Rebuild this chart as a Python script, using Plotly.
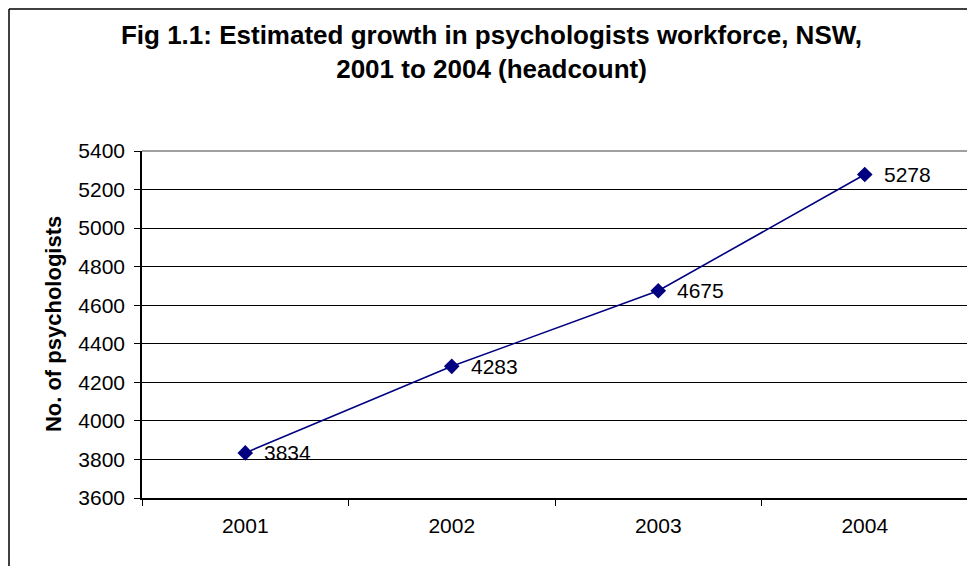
import plotly.graph_objects as go

years = ["2001", "2002", "2003", "2004"]
headcount = [3834, 4283, 4675, 5278]
y_ticks = [3600, 3800, 4000, 4200, 4400, 4600, 4800, 5000, 5200, 5400]

FONT = "Liberation Sans, Arial, sans-serif"
NAVY = "#000080"

# page body has an 8px margin, so the figure is sized to fit the window
W, H = 967, 558
L, R, T, B = 134, 7, 143, 68

fig = go.Figure()
fig.add_trace(go.Scatter(
    x=years, y=headcount, mode="lines+markers",
    line=dict(color=NAVY, width=1.6),
    marker=dict(symbol="diamond", size=12, color=NAVY),
    showlegend=False, hoverinfo="skip",
))

for i, v in enumerate(headcount):
    fig.add_annotation(x=i, y=v, text=str(v), showarrow=False,
                       xanchor="left", yanchor="middle", xshift=17,
                       font=dict(family=FONT, size=21, color="black"))

# y-axis title
fig.add_annotation(xref="paper", yref="paper", x=-0.107, y=0.5,
                   text="<b>No. of psychologists</b>", textangle=-90,
                   showarrow=False, xanchor="center", yanchor="middle",
                   font=dict(family=FONT, size=22, color="black"))

shapes = [
    # outer chart border (cropped on right/bottom), pixel-sized from plot corner
    dict(type="line", xref="paper", yref="paper",
         xsizemode="pixel", ysizemode="pixel", xanchor=0, yanchor=1,
         x0=-(L - 1), x1=-(L - 1), y0=-600, y1=T - 1,
         line=dict(color="black", width=1.5), layer="above"),
    dict(type="line", xref="paper", yref="paper",
         xsizemode="pixel", ysizemode="pixel", xanchor=0, yanchor=1,
         x0=-(L - 1), x1=1200, y0=T - 1, y1=T - 1,
         line=dict(color="black", width=1.5), layer="above"),
    # grey plot-area border top and right
    dict(type="line", xref="paper", yref="paper", x0=0, x1=1, y0=1, y1=1,
         line=dict(color="#808080", width=1.5), layer="above"),
    dict(type="line", xref="paper", yref="paper", x0=1, x1=1, y0=0, y1=1,
         line=dict(color="#808080", width=1.5), layer="above"),
]

fig.update_layout(
    width=W, height=H,
    margin=dict(l=L, r=R, t=T, b=B, autoexpand=False),
    paper_bgcolor="white", plot_bgcolor="white",
    font=dict(family=FONT, size=21, color="black"),
    title=dict(text="<b>Fig 1.1: Estimated growth in psychologists workforce, NSW,<br>2001 to 2004 (headcount)</b>",
               x=0.5, xanchor="center", xref="container",
               y=1 - 36 / H, yanchor="top", yref="container",
               automargin=False,
               font=dict(family=FONT, size=26, color="black")),
    shapes=shapes,
)

fig.update_xaxes(
    type="category", range=[-0.5, 3.5], automargin=False,
    showgrid=False, showline=True, linecolor="black", linewidth=1.5,
    ticks="outside", ticklen=6, tickcolor="black", tickwidth=1.2,
    tickson="boundaries", ticklabelstandoff=8,
    tickfont=dict(family=FONT, size=21, color="black"),
)
fig.update_yaxes(
    range=[3600, 5400], tickvals=y_ticks, automargin=False,
    showgrid=True, gridcolor="black", gridwidth=1.2,
    zeroline=False, showline=True, linecolor="black", linewidth=1.5,
    ticks="outside", ticklen=6, tickcolor="black", tickwidth=1.2,
    ticklabelstandoff=5,
    tickfont=dict(family=FONT, size=21, color="black"),
)

fig.write_html("out.html")
